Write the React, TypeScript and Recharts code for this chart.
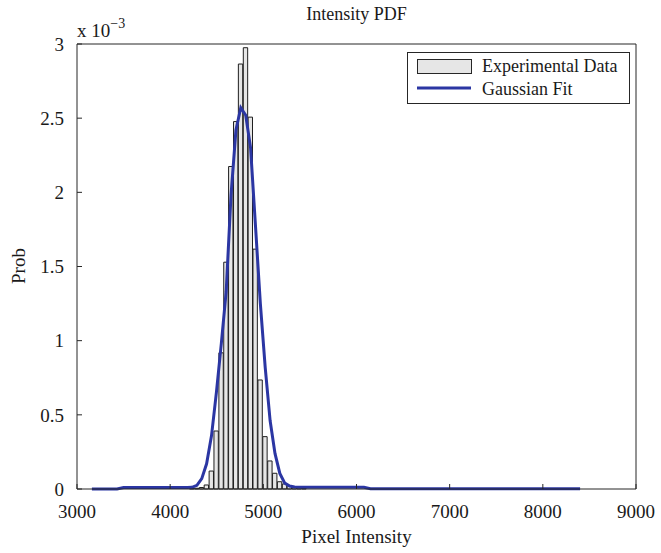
import { ComposedChart, Bar, Line, XAxis, YAxis, Legend } from "recharts";

// pixel intensity at each point (bin centres in the middle, tail points of the fit at the ends)
const intensity = [
  3160, 3430, 3500,
  4182, 4234, 4287, 4339, 4391, 4444, 4496, 4549, 4601, 4653, 4706, 4758, 4811,
  4863, 4915, 4968, 5020, 5073, 5125, 5177, 5230, 5282, 5335, 5387, 5439,
  6080, 6150, 8400,
];

// histogram probability, in units of 1e-3
const histProbE3 = [
  null, null, null,
  0, 0.003, 0.005, 0.01, 0.027, 0.121, 0.391, 0.918, 1.529, 2.174, 2.477, 2.865, 2.975,
  2.507, 1.617, 0.735, 0.353, 0.189, 0.106, 0.049, 0.034, 0.022, 0.012, 0.008, 0.004,
  null, null, null,
];

// gaussian fit, in units of 1e-3
const fitProbE3 = [
  0, 0, 0.01,
  0.01, 0.011, 0.025, 0.07, 0.17, 0.36, 0.65, 0.98, 1.33, 1.98, 2.42, 2.57, 2.52,
  2.3, 1.78, 1.25, 0.82, 0.46, 0.24, 0.105, 0.04, 0.02, 0.013, 0.012, 0.012,
  0.011, 0.002, 0.002,
];

const xTicks = [3000, 4000, 5000, 6000, 7000, 8000, 9000];
const yTicks = [0, 0.5, 1, 1.5, 2, 2.5, 3];
const binWidth = 52.4;

const data = intensity.map((x, i) => ({ x, hist: histProbE3[i], fit: fitProbE3[i] }));

const FONT = "'Liberation Serif', 'Times New Roman', serif";
const TXT = "#1a1a1a";
const AX = "#262626";
const BLUE = "#2b36a3";
const GREY = "#e6e6e6";

const plotLeft = 77;
const plotRight = 636;
const barPx = ((plotRight - plotLeft) * binWidth) / (xTicks[xTicks.length - 1] - xTicks[0]);

function LegendBox() {
  return (
    <svg width={224} height={53} style={{ display: "block" }}>
      <rect x={0.5} y={0.5} width={222} height={51} fill="#fff" stroke={AX} />
      <rect x={10.5} y={7.5} width={54} height={14} fill={GREY} stroke={AX} />
      <text x={75} y={20} fontFamily={FONT} fontSize={18} fill={TXT}>
        Experimental Data
      </text>
      <line x1={10} x2={64} y1={36} y2={36} stroke={BLUE} strokeWidth={3} />
      <text x={75} y={43} fontFamily={FONT} fontSize={18} fill={TXT}>
        Gaussian Fit
      </text>
    </svg>
  );
}

export default function App() {
  return (
    <div style={{ position: "absolute", left: 0, top: 0, background: "#fff" }}>
      <ComposedChart
        width={661}
        height={553}
        data={data}
        margin={{ top: 43, right: 24, bottom: 34, left: 17 }}
        barCategoryGap={0}
        barGap={0}
      >
        <XAxis
          xAxisId="b"
          dataKey="x"
          type="number"
          domain={[3000, 9000]}
          ticks={xTicks}
          interval={0}
          height={30}
          tickSize={-5}
          tickMargin={21}
          stroke={AX}
          tick={{ fill: TXT, fontSize: 19, fontFamily: FONT }}
        />
        <XAxis
          xAxisId="t"
          orientation="top"
          dataKey="x"
          type="number"
          domain={[3000, 9000]}
          ticks={xTicks}
          interval={0}
          height={1}
          tickSize={-5}
          tick={false}
          stroke={AX}
        />
        <YAxis
          yAxisId="l"
          type="number"
          domain={[0, 3]}
          ticks={yTicks}
          interval={0}
          width={60}
          tickSize={-5}
          tickMargin={18}
          stroke={AX}
          tick={{ fill: TXT, fontSize: 19, fontFamily: FONT }}
        />
        <YAxis
          yAxisId="r"
          orientation="right"
          type="number"
          domain={[0, 3]}
          ticks={yTicks}
          interval={0}
          width={1}
          tickSize={-5}
          tick={false}
          stroke={AX}
        />
        <Bar
          xAxisId="b"
          yAxisId="l"
          dataKey="hist"
          name="Experimental Data"
          barSize={barPx}
          fill={GREY}
          stroke="#1f1f1f"
          strokeWidth={1}
          isAnimationActive={false}
        />
        <Line
          xAxisId="b"
          yAxisId="l"
          dataKey="fit"
          name="Gaussian Fit"
          type="linear"
          dot={false}
          stroke={BLUE}
          strokeWidth={3}
          isAnimationActive={false}
        />
        <Legend
          layout="horizontal"
          verticalAlign="middle"
          align="center"
          wrapperStyle={{ left: 407, top: 52, width: 224, height: 53 }}
          content={() => <LegendBox />}
        />
        <text x={356.5} y={20} textAnchor="middle" fontFamily={FONT} fontSize={18} fill={TXT}>
          Intensity PDF
        </text>
        <text x={356.5} y={543} textAnchor="middle" fontFamily={FONT} fontSize={19} fill={TXT}>
          Pixel Intensity
        </text>
        <text
          x={25}
          y={266}
          textAnchor="middle"
          transform="rotate(-90, 25, 266)"
          fontFamily={FONT}
          fontSize={19}
          fill={TXT}
        >
          Prob
        </text>
        <text x={77} y={37} fontFamily={FONT} fontSize={19} fill={TXT}>
          x 10
          <tspan dy={-9} fontSize={14}>
            −3
          </tspan>
        </text>
      </ComposedChart>
    </div>
  );
}
